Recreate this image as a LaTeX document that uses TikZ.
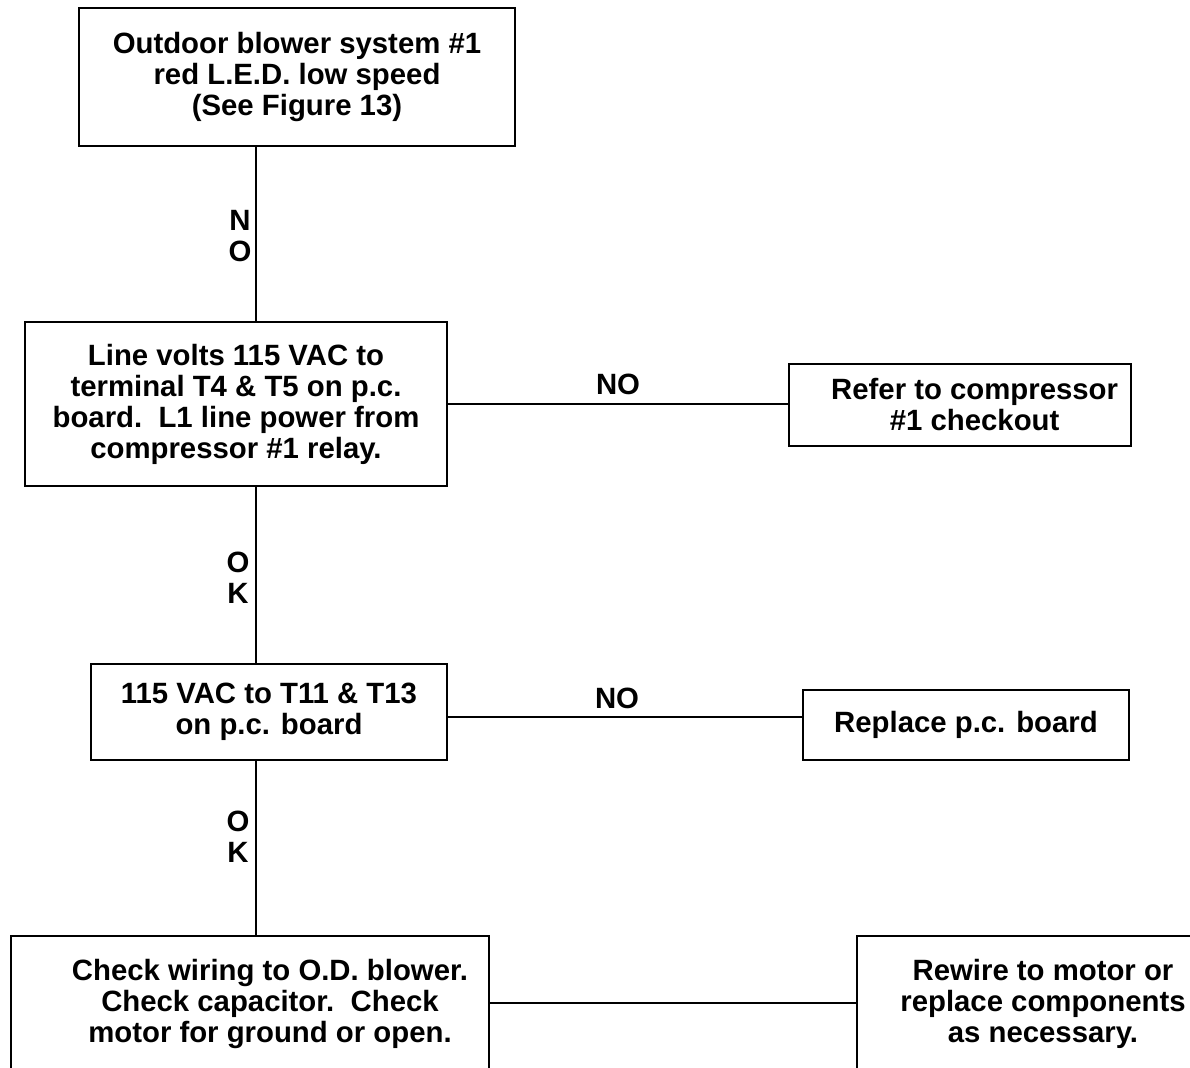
\documentclass[tikz,border=0pt]{standalone}
\usepackage{fontspec}
\setmainfont{Liberation Sans}
\begin{document}
\begin{tikzpicture}[x=0.75pt,y=-0.75pt]

\tikzset{box/.style = {shape=rectangle,draw,line width=1.2pt,align=center,inner sep=0pt,font=\fontsize{22}{23.25}\selectfont\bfseries}}
\tikzset{tag/.style = {font=\fontsize{22}{23.25}\selectfont\bfseries,align=center,inner sep=0pt}}
\tikzset{wire/.style = {line width=1.2pt}}
\useasboundingbox (0,0) rectangle (1190,1068);
%boxes
\node[box, minimum width=327pt, minimum height=103.5pt] (1) at (297,77) {Outdoor blower system \#1\\red L.E.D. low speed\\(See Figure 13)};
\node[box, minimum width=316.5pt, minimum height=123pt] (2) at (236,404) {Line volts 115 VAC to\\terminal T4 \& T5 on p.c.\\board.\ \ L1 line power from\\compressor \#1 relay.};
\node[box, minimum width=256.5pt, minimum height=61.5pt] (3) at (960,405) {\hspace*{22pt}Refer to compressor\\\hspace*{22pt}\#1 checkout};
\node[box, minimum width=267pt, minimum height=72pt] (4) at (269,712) {115 VAC to T11 \& T13\\on p.c. board};
\node[box, minimum width=244.5pt, minimum height=52.5pt] (5) at (966,725) {Replace p.c. board};
\node[box, minimum width=358.5pt, minimum height=102pt] (6) at (250,1004) {\hspace*{30pt}Check wiring to O.D. blower.\\\hspace*{30pt}Check capacitor.\ \ Check\\\hspace*{30pt}motor for ground or open.};
\node[box, minimum width=279pt, minimum height=102pt] (7) at (1043,1004) {Rewire to motor or\\replace components\\as necessary.};
%lines
\draw[wire] (256,0 |- 1.south) -- (256,0 |- 2.north);
\draw[wire] (256,0 |- 2.south) -- (256,0 |- 4.north);
\draw[wire] (256,0 |- 4.south) -- (256,0 |- 6.north);
\draw[wire] (2.east |- 0,404) -- (3.west |- 0,404) node [tag, pos=0.5, yshift=15pt] (no1) {NO};
\draw[wire] (4.east |- 0,717) -- (5.west |- 0,717) node [tag, pos=0.5, yshift=14pt, xshift=-6pt] (no2) {NO};
\draw[wire] (6.east |- 0,1003) -- (7.west |- 0,1003);
%labels
\node[tag] (n1) at (240,236) {N\\O};
\node[tag] (k1) at (238,578) {O\\K};
\node[tag] (k2) at (238,837) {O\\K};

\end{tikzpicture}
\end{document}
